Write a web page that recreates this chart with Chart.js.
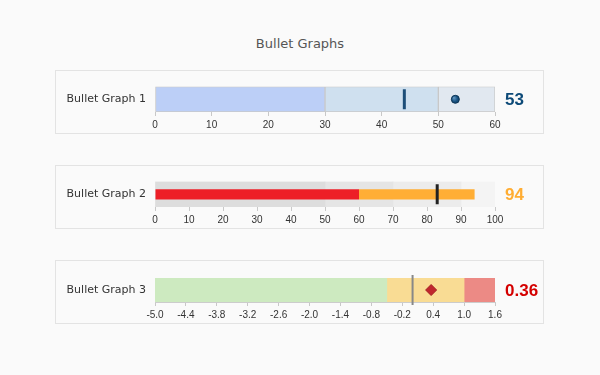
<!DOCTYPE html>
<html>
<head>
<meta charset="utf-8">
<script src="https://cdn.jsdelivr.net/npm/chart.js@4"></script>
<style>
  body { margin: 0; background: #fafafa; width: 600px; height: 375px; overflow: hidden; }
  #title { position: absolute; left: 0; top: 36px; width: 600px; text-align: center;
           font: 13px "DejaVu Sans", sans-serif; color: #555; }
  .panel { position: absolute; left: 55px; width: 489px; height: 64px;
           border: 1px solid #e3e3e3; box-sizing: border-box; }
  .panel canvas { display: block; }
</style>
</head>
<body>
<div id="title">Bullet Graphs</div>
<div class="panel" style="top:70px"><canvas id="c1" width="487" height="62"></canvas></div>
<div class="panel" style="top:165px"><canvas id="c2" width="487" height="62"></canvas></div>
<div class="panel" style="top:260px"><canvas id="c3" width="487" height="62"></canvas></div>
<script>
// data
const names = ['Bullet Graph 1', 'Bullet Graph 2', 'Bullet Graph 3'];

const bands1 = [[0, 30], [30, 50], [50, 60]];
const target1 = 44;
const value1 = 53;
const ticks1 = [0, 10, 20, 30, 40, 50, 60];

const bands2 = [[0, 50], [50, 70], [70, 90], [90, 100]];
const bars2 = [[0, 60], [60, 94]];
const target2 = 83;
const value2 = 94;
const ticks2 = [0, 10, 20, 30, 40, 50, 60, 70, 80, 90, 100];

const bands3 = [[-5.0, -0.5], [-0.5, 1.0], [1.0, 1.6]];
const target3 = 0.0;
const value3 = 0.36;
const ticks3 = [-5.0, -4.4, -3.8, -3.2, -2.6, -2.0, -1.4, -0.8, -0.2, 0.4, 1.0, 1.6];

// value text drawn right of the plot area
const valueLabel = {
    id: 'valueLabel',
    afterDraw(chart, args, opts) {
        const { ctx, chartArea } = chart;
        ctx.save();
        ctx.font = 'bold 17px "Liberation Sans", Arial, sans-serif';
        ctx.fillStyle = opts.color;
        ctx.textAlign = 'left';
        ctx.textBaseline = 'middle';
        ctx.fillText(opts.text, chartArea.right + 10, (chartArea.top + chartArea.bottom) / 2 + 1);
        ctx.restore();
    }
};

function bullet(id, p) {
    const label = p.name;
    const datasets = [];

    p.bands.forEach((b, i) => {
        datasets.push({
            data: [b],
            backgroundColor: p.bandColors[i],
            borderColor: p.bandBorder || 'transparent',
            borderWidth: p.bandBorder ? 1 : 0,
            borderSkipped: false,
            grouped: false,
            barPercentage: 1,
            categoryPercentage: 1,
            order: 10
        });
    });

    (p.bars || []).forEach((b, i) => {
        datasets.push({
            data: [b],
            backgroundColor: p.barColors[i],
            borderWidth: 0,
            grouped: false,
            barPercentage: 0.4,
            categoryPercentage: 1,
            order: 5
        });
    });

    datasets.push({
        type: 'scatter',
        data: [{ x: p.target, y: label }],
        pointStyle: 'line',
        rotation: 90,
        radius: p.targetLen,
        borderColor: p.targetColor,
        borderWidth: p.targetWidth,
        order: 2
    });

    if (p.point) {
        datasets.push({
            type: 'scatter',
            data: [{ x: p.point.value, y: label }],
            pointStyle: p.point.style,
            radius: p.point.radius,
            backgroundColor: p.point.fill,
            borderColor: p.point.border,
            borderWidth: 1,
            order: 1
        });
    }

    return new Chart(document.getElementById(id), {
        type: 'bar',
        data: { labels: [label], datasets },
        plugins: [valueLabel],
        options: {
            indexAxis: 'y',
            responsive: false,
            animation: false,
            events: [],
            layout: { padding: { left: 0, right: 48, top: 11, bottom: 0 } },
            plugins: {
                legend: { display: false },
                tooltip: { enabled: false },
                valueLabel: { text: p.valueText, color: p.valueColor }
            },
            scales: {
                x: {
                    type: 'linear',
                    min: p.ticks[0],
                    max: p.ticks[p.ticks.length - 1],
                    afterBuildTicks: (s) => { s.ticks = p.ticks.map(v => ({ value: v })); },
                    afterFit: (s) => { s.height = 21; },
                    grid: { display: true, drawOnChartArea: false, drawTicks: true, tickLength: 4, color: '#c8c8c8' },
                    border: { display: p.axisBorder, color: '#cccccc' },
                    ticks: {
                        padding: 3,
                        color: '#333',
                        font: { family: '"Liberation Sans", Arial, sans-serif', size: 10 },
                        maxRotation: 0,
                        autoSkip: false,
                        callback: (v) => p.fmt(v)
                    }
                },
                y: {
                    afterFit: (s) => { s.width = 99; },
                    grid: { display: false, drawTicks: false },
                    border: { display: false },
                    ticks: {
                        padding: 9,
                        color: '#333',
                        font: { family: '"DejaVu Sans", Verdana, sans-serif', size: 11 }
                    }
                }
            }
        }
    });
}

function sphere(ctx) {
    const chart = ctx.chart;
    if (!chart.chartArea || !ctx.parsed) return '#124d78';
    const x = chart.scales.x.getPixelForValue(ctx.parsed.x);
    const y = chart.scales.y.getPixelForValue(ctx.parsed.y);
    const g = chart.ctx.createRadialGradient(x - 1.5, y - 1.5, 0.5, x, y, 5);
    g.addColorStop(0, '#5f93bd');
    g.addColorStop(0.5, '#1a5585');
    g.addColorStop(1, '#0b3557');
    return g;
}

bullet('c1', {
    name: names[0],
    bands: bands1,
    bandColors: ['#bccff7', '#cfe0ef', '#e1e8f0'],
    bandBorder: '#c9c9c9',
    target: target1, targetLen: 10, targetWidth: 3, targetColor: '#1d4e78',
    point: { value: value1, style: 'circle', radius: 4, fill: sphere, border: '#0b3557' },
    ticks: ticks1,
    fmt: (v) => String(v),
    axisBorder: false,
    valueText: String(value1), valueColor: '#0d4a78'
});

bullet('c2', {
    name: names[1],
    bands: bands2,
    bandColors: ['#dddddd', '#e5e5e5', '#ececec', '#f4f4f4'],
    bars: bars2,
    barColors: ['#ed1f27', '#ffae35'],
    target: target2, targetLen: 10, targetWidth: 3, targetColor: '#222222',
    ticks: ticks2,
    fmt: (v) => String(v),
    axisBorder: false,
    valueText: String(value2), valueColor: '#ffad33'
});

bullet('c3', {
    name: names[2],
    bands: bands3,
    bandColors: ['#cdeac0', '#f9dc94', '#ec8a85'],
    target: target3, targetLen: 15, targetWidth: 2, targetColor: '#888888',
    point: { value: value3, style: 'rectRot', radius: 5.5, fill: '#c0272d', border: '#a51f24' },
    ticks: ticks3,
    fmt: (v) => v.toFixed(1),
    axisBorder: true,
    valueText: value3.toFixed(2), valueColor: '#d40000'
});
</script>
</body>
</html>
